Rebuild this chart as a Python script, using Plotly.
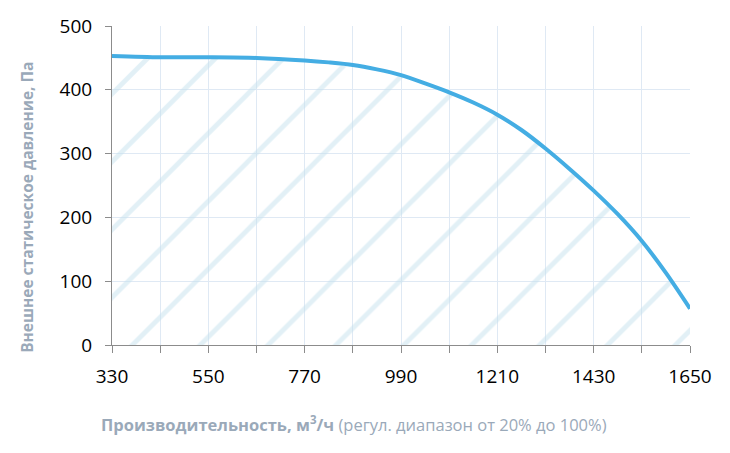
import plotly.graph_objects as go

# airflow, m3/h and external static pressure, Pa
flow = [330, 440, 550, 660, 770, 825, 880, 935, 990, 1045, 1100, 1155, 1210,
        1265, 1320, 1375, 1430, 1485, 1540, 1595, 1650]
pressure = [453, 451, 451, 450, 446, 443, 439, 432, 423, 410, 396, 380, 361,
            337, 308, 276, 242, 205, 163, 113, 57]

x_ticks = list(range(330, 1651, 110))
x_labels = [str(v) if (v - 330) % 220 == 0 else "" for v in x_ticks]

title_color = "#9aa9b9"
font_name = "Open Sans"

fig = go.Figure()

fig.add_trace(
    go.Scatter(
        x=flow,
        y=pressure,
        mode="lines",
        line=dict(color="#44ade3", width=4, shape="spline", smoothing=0.8),
        fill="tozeroy",
        fillcolor="rgba(255,255,255,0)",
        fillpattern=dict(shape="/", size=48, solidity=0.1,
                         fgcolor="#c6e2ee", bgcolor="rgba(255,255,255,0)"),
        hoverinfo="skip",
    )
)

fig.update_layout(
    width=730,
    height=453,
    margin=dict(l=112, r=40, t=26, b=108),
    plot_bgcolor="white",
    paper_bgcolor="white",
    showlegend=False,
    font=dict(family=font_name, color="black"),
    annotations=[
        dict(
            text="<b>Производительность, м<sup>3</sup>/ч</b> (регул. диапазон от 20% до 100%)",
            xref="paper", yref="paper", x=-0.023, y=-0.205,
            xanchor="left", yanchor="top", showarrow=False,
            font=dict(size=16.5, color=title_color, family=font_name),
        ),
        dict(
            text="<b>Внешнее статическое давление, Па</b>",
            xref="paper", yref="paper", x=-0.147, y=0.43,
            xanchor="center", yanchor="middle", textangle=-90, showarrow=False,
            font=dict(size=15.5, color=title_color, family=font_name),
        ),
    ],
)

fig.update_xaxes(
    range=[330, 1650],
    tickvals=x_ticks,
    ticktext=x_labels,
    ticks="outside",
    ticklen=7,
    tickcolor="#8c8c8c",
    showline=True,
    linecolor="#8c8c8c",
    linewidth=1,
    showgrid=True,
    gridcolor="#dfe9f4",
    zeroline=False,
    automargin=False,
    tickfont=dict(size=19, color="black"),
    ticklabelstandoff=7,
)

fig.update_yaxes(
    range=[0, 500],
    dtick=100,
    ticks="outside",
    ticklen=6,
    tickcolor="#8c8c8c",
    showline=True,
    linecolor="#8c8c8c",
    linewidth=1,
    showgrid=True,
    gridcolor="#dfe9f4",
    zeroline=False,
    automargin=False,
    tickfont=dict(size=19, color="black"),
    ticklabelstandoff=9,
)

# the page body has a default 8px margin; drop it so the figure sits at 0,0
fig.write_html("out.html", config={"displayModeBar": False},
               post_script="document.body.style.margin='0px';")
